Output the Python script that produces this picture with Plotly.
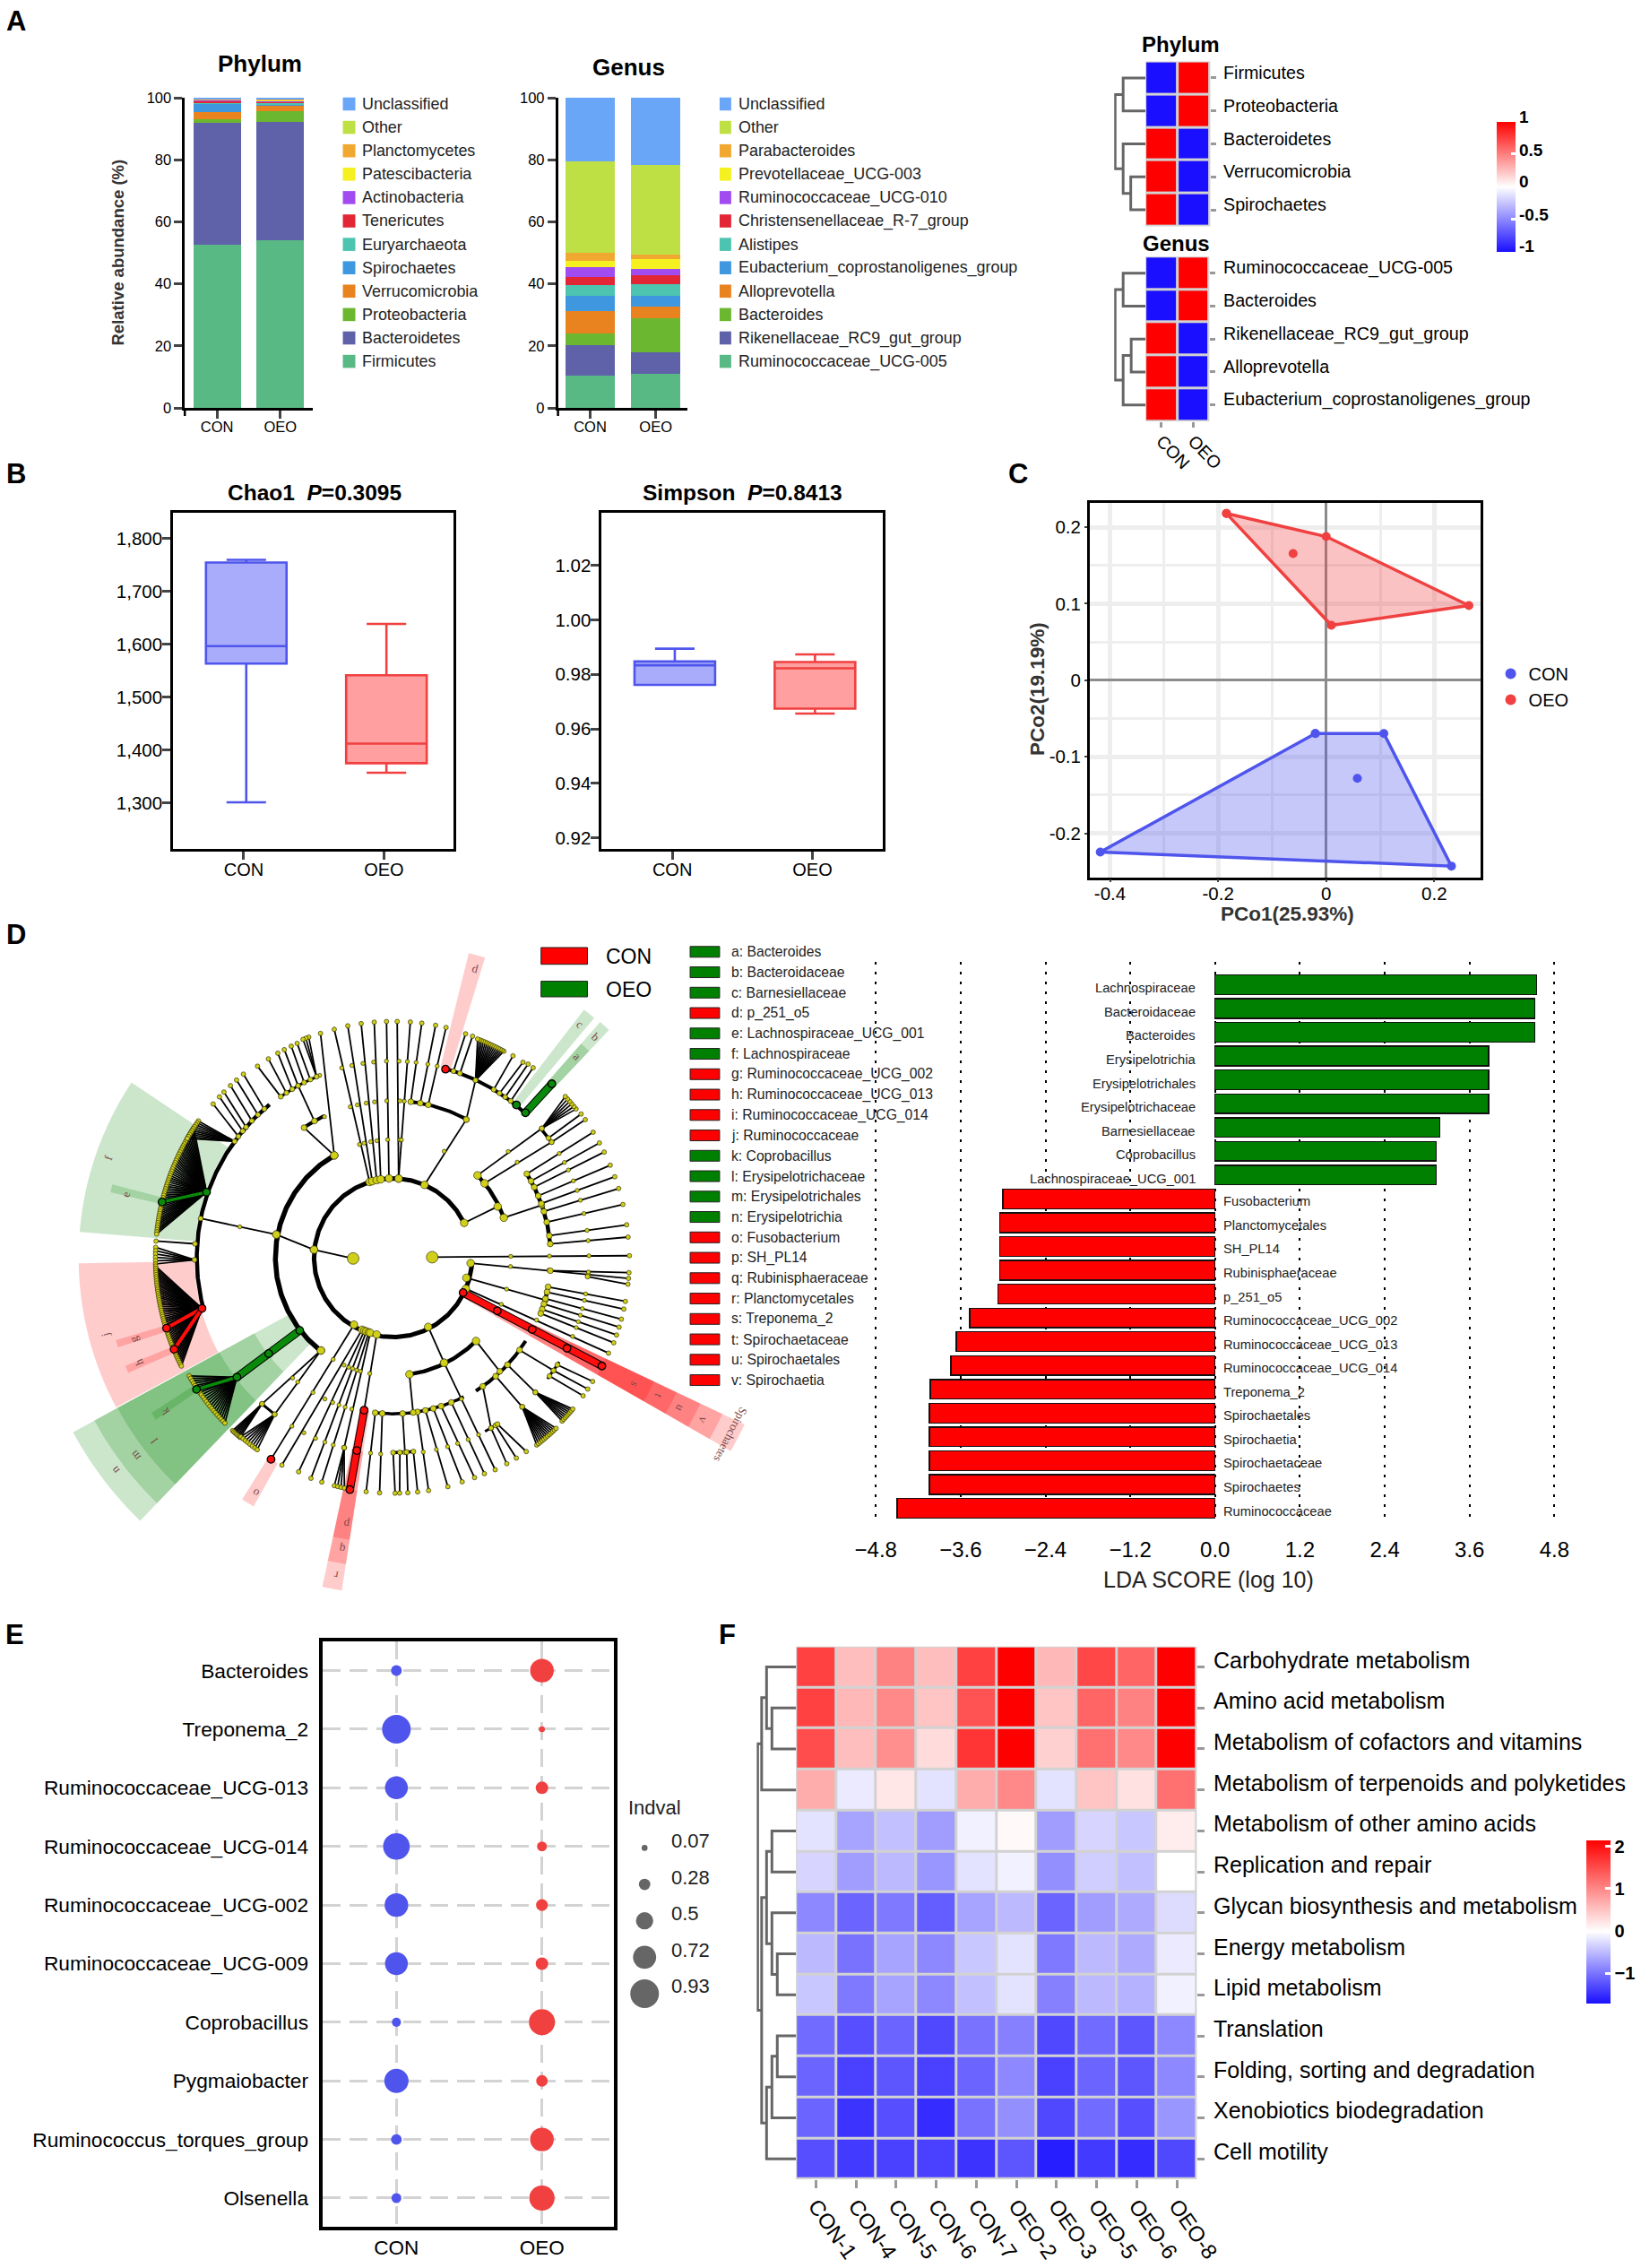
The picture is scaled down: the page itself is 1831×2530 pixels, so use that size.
import math
import numpy as np
import plotly.graph_objects as go

W, H = 1831, 2530
FONT = "Liberation Sans"

# ---------------- Panel A data ----------------
phylum_names = ["Firmicutes", "Bacteroidetes", "Proteobacteria", "Verrucomicrobia", "Spirochaetes", "Euryarchaeota",
                "Tenericutes", "Actinobacteria", "Patescibacteria", "Planctomycetes", "Other", "Unclassified"]
phylum_con = [52.5, 39.4, 1.1, 2.3, 2.8, 0.2, 0.7, 0.2, 0.2, 0.2, 0.1, 0.3]
phylum_oeo = [54.0, 38.3, 3.4, 1.7, 0.5, 0.4, 0.3, 0.3, 0.5, 0.2, 0.1, 0.3]
genus_names = ["Ruminococcaceae_UCG-005", "Rikenellaceae_RC9_gut_group", "Bacteroides", "Alloprevotella",
               "Eubacterium_coprostanoligenes_group", "Alistipes", "Christensenellaceae_R-7_group",
               "Ruminococcaceae_UCG-010", "Prevotellaceae_UCG-003", "Parabacteroides", "Other", "Unclassified"]
genus_con = [10.5, 9.7, 3.9, 7.0, 4.9, 3.5, 2.8, 3.0, 2.0, 2.6, 29.6, 20.5]
genus_oeo = [11.1, 6.8, 10.9, 3.8, 3.5, 3.9, 2.8, 2.0, 3.1, 1.5, 29.0, 21.6]
stack_colors = ["#58b985", "#5f62a9", "#6bb72f", "#e98320", "#3f97e0", "#4cc4b0",
                "#e32636", "#a04cf0", "#f5f020", "#f0a830", "#bfe045", "#6aa6f8"]
groups = ["CON", "OEO"]

heat_phylum_rows = ["Firmicutes", "Proteobacteria", "Bacteroidetes", "Verrucomicrobia", "Spirochaetes"]
heat_phylum_z = [[-1, 1], [-1, 1], [1, -1], [1, -1], [1, -1]]
heat_genus_rows = ["Ruminococcaceae_UCG-005", "Bacteroides", "Rikenellaceae_RC9_gut_group", "Alloprevotella",
                   "Eubacterium_coprostanoligenes_group"]
heat_genus_z = [[-1, 1], [-1, 1], [1, -1], [1, -1], [1, -1]]
dendro_phylum = [(0, 1, 25), (3, 4, 16.5), (2, 6, 25), (5, 7, 34)]
dendro_genus = [(0, 1, 25), (2, 3, 16), (6, 4, 25), (5, 7, 34)]

# ---------------- Panel B data ----------------
chao_q1 = [1563, 1375]
chao_med = [1596, 1412]
chao_q3 = [1754, 1541]
chao_low = [1301, 1357]
chao_high = [1759, 1638]
simp_q1 = [0.9761, 0.9674]
simp_med = [0.9833, 0.9822]
simp_q3 = [0.9847, 0.9845]
simp_low = [0.9761, 0.9656]
simp_high = [0.9894, 0.9873]

# ---------------- Panel C data ----------------
con_hull_x = [-0.0201, 0.1067, 0.2317, -0.418]
con_hull_y = [-0.0695, -0.0695, -0.2427, -0.2244]
con_inner_x = [0.0577]
con_inner_y = [-0.128]
oeo_hull_x = [-0.1845, 0.0, 0.2641, 0.0096]
oeo_hull_y = [0.2178, 0.1877, 0.0976, 0.0718]
oeo_inner_x = [-0.0612]
oeo_inner_y = [0.1655]

# ---------------- Panel D data ----------------
lda_green_names = ["Lachnospiraceae", "Bacteroidaceae", "Bacteroides", "Erysipelotrichia", "Erysipelotrichales",
                   "Erysipelotrichaceae", "Barnesiellaceae", "Coprobacillus", "Lachnospiraceae_UCG_001"]
lda_green_vals = [4.55, 4.52, 4.52, 3.87, 3.87, 3.87, 3.18, 3.13, 3.13]
lda_red_names = ["Fusobacterium", "Planctomycetales", "SH_PL14", "Rubinisphaeraceae", "p_251_o5",
                 "Ruminococcaceae_UCG_002", "Ruminococcaceae_UCG_013", "Ruminococcaceae_UCG_014", "Treponema_2",
                 "Spirochaetales", "Spirochaetia", "Spirochaetaceae", "Spirochaetes", "Ruminococcaceae"]
lda_red_vals = [-3.0, -3.05, -3.05, -3.05, -3.07, -3.47, -3.66, -3.74, -4.03, -4.04, -4.04, -4.04, -4.04, -4.50]
lda_ticks = [-4.8, -3.6, -2.4, -1.2, 0.0, 1.2, 2.4, 3.6, 4.8]
key_labels = ["a: Bacteroides", "b: Bacteroidaceae", "c: Barnesiellaceae", "d: p_251_o5", "e: Lachnospiraceae_UCG_001",
              "f: Lachnospiraceae", "g: Ruminococcaceae_UCG_002", "h: Ruminococcaceae_UCG_013",
              "i: Ruminococcaceae_UCG_014", "j: Ruminococcaceae", "k: Coprobacillus", "l: Erysipelotrichaceae",
              "m: Erysipelotrichales", "n: Erysipelotrichia", "o: Fusobacterium", "p: SH_PL14", "q: Rubinisphaeraceae",
              "r: Planctomycetales", "s: Treponema_2", "t: Spirochaetaceae", "u: Spirochaetales", "v: Spirochaetia"]
key_groups = "GGGRGGRRRRGGGGRRRRRRRR"

# cladogram tables: angles in degrees, radii in tree units
clado_rings = [(26, 357, 178, 5), (120, 232, 265, 5.5), (129, 195, 442, 4.5), (20, 44, 265, 4.5), (5, 32, 355, 4.5),
               (47.5, 74.5, 440, 4), (62, 83.5, 352, 4), (-82, -45, 264, 4.5), (263.4, 297, 350, 3.5),
               (-58, -32, 352, 4), (-20.6, -10.6, 355, 4.5), (112, 125.5, 441, 3), (116, 124.5, 354, 4),
               (228, 233, 441, 3), (270, 276, 437, 3.5), (-62, -57.6, 441, 3), (-38, -32, 441, 3), (36, 41, 441, 3.5)]
clado_spokes = [(181, 90, 174.2, 179), (0.8, 88, 0.5, 532), (174.2, 179, 168.8, 268), (168.8, 268, 168.5, 442),
                (26, 178, 26, 262), (66.6, 178, 62, 351), (-63, 174, -64, 262), (-4, 175, -5, 532),
                (-15.3, 171, -15.5, 356), (-23, 178, -23.8, 530),
                (107.3, 178, 104.5, 529), (105.3, 178, 101.1, 530), (102, 178, 97.8, 530), (99, 178, 94.6, 530),
                (93, 178, 91.6, 530), (86, 178, 89, 530), (86, 178, 85.8, 530),
                (120, 265, 108, 529), (120, 265, 124.5, 354), (120, 354, 119, 441),
                (125, 441, 125.4, 527), (123, 441, 122.2, 527), (121, 441, 119.5, 527), (119, 441, 117.7, 527),
                (117, 441, 115.8, 527), (115, 441, 114.2, 527),
                (142, 442, 139.6, 532), (140, 442, 137.3, 532), (138.5, 442, 135.7, 532), (136, 442, 133.5, 532),
                (133.5, 442, 131.5, 532), (131, 442, 129.3, 532),
                (176, 447, 176, 535), (232, 264, 232.8, 441), (232, 264, 228, 441),
                (239.6, 174, 238.7, 529), (246.6, 176, 241.7, 528), (248.5, 176, 246.1, 525), (250, 176, 249.5, 528),
                (251.9, 176, 252.3, 528), (253, 176, 255.5, 440), (257.9, 176, 259.2, 348),
                (263.4, 350, 263.4, 528), (266, 350, 266.7, 528), (273.5, 350, 273.5, 437),
                (270, 437, 270.5, 528), (272, 437, 271.6, 528), (274, 437, 273.6, 528), (276, 437, 276, 528),
                (279, 350, 278.7, 528), (282, 350, 283.5, 528), (285, 350, 287.2, 526), (288, 350, 290.4, 526),
                (292, 350, 293, 526), (-64, 262, -64.2, 528), (-82, 264, -82.6, 350), (-45, 264, -46.7, 350),
                (-60, 441, -61, 528), (-58.5, 441, -58.3, 528), (-57.8, 441, -55.4, 528), (-55, 352, -60, 441),
                (-49, 352, -49, 443), (-43, 352, -43.3, 440), (-36, 352, -35, 441),
                (-37, 441, -35.9, 528), (-35, 441, -33.9, 528), (-33, 441, -31.7, 528),
                (44.2, 265, 40.9, 443), (39, 265, 36, 441), (36, 441, 35.6, 532), (37.5, 441, 37.3, 532),
                (19.8, 265, 19.4, 355),
                (32, 355, 32, 531), (29, 355, 29, 531), (26.5, 355, 26.5, 531), (23, 355, 23, 531), (20, 355, 20, 531),
                (17, 355, 17, 531), (13, 355, 13, 531), (8, 355, 8, 531), (5, 355, 5, 531),
                (-10.6, 355, -10.6, 532), (-12.5, 355, -12.5, 532), (-15, 355, -15, 532), (-17, 355, -17, 532),
                (-19, 355, -19, 532), (-20.6, 355, -21, 532),
                (83.5, 352, 83, 530), (80, 352, 79.6, 530), (77, 352, 77, 530), (62, 351, 65, 439),
                (72, 440, 72, 528), (70, 440, 70.2, 528), (59, 440, 59.2, 527), (57, 440, 56.3, 527),
                (55, 440, 55, 530), (53, 440, 53.5, 530), (-5.5, 440, -6.4, 532), (-4.7, 355, -3.6, 532)]
clado_fans = [(160.7, 445, 147, 174.3, 535, 50), (180.6, 447, 177.5, 181.5, 535, 6), (194.8, 445, 182, 207, 535, 50),
              (217.3, 442, 210, 224.4, 530, 22), (228, 441, 227, 229.5, 530, 7), (232.8, 441, 229.5, 234.6, 528, 8),
              (143.8, 442, 145, 150, 535, 10), (65, 439, 61.7, 68.8, 526, 15), (40.9, 443, 39, 43, 530, 6),
              (-49, 443, -52.4, -46.2, 530, 12), (-43.3, 440, -43.9, -40, 528, 8), (113, 441, 111, 112.5, 530, 3),
              (255.5, 440, 255.5, 258, 528, 4)]
clado_wedges = [(146.3, 175.3, 447, 708, "G"), (165.4, 167, 535, 653, "G"), (181, 208.3, 447, 708, "R"),
                (196.5, 198, 534, 651, "R"), (201.9, 203.4, 534, 650, "R"), (212.6, 214.2, 532, 646, "G"),
                (208.5, 226, 268, 820, "G"), (208.5, 226, 355, 765, "G"), (208.5, 226, 445, 706, "G"),
                (72.9, 76, 440, 704, "R"), (49.9, 52.3, 441, 703, "G"), (46.4, 48.6, 441, 640, "G"),
                (46.4, 48.6, 441, 705, "G"), (-29.7, -25.3, 176, 875, "R"), (-29.7, -25.3, 264, 820, "R"),
                (-29.7, -25.3, 353, 765, "R"), (-29.7, -25.3, 442, 706, "R"), (-29.7, -25.3, 529, 650, "R"),
                (257.8, 261.2, 348, 755, "R"), (257.8, 261.2, 440, 695, "R"), (257.8, 261.2, 529, 640, "R"),
                (237.9, 240.6, 529, 640, "R")]
clado_letters = [("f", 160.7, 680), ("e", 166.7, 619), ("j", 195, 671), ("g", 197.4, 613), ("h", 202.3, 618),
                 ("k", 213.9, 618), ("l", 217.3, 676), ("m", 217.4, 730), ("n", 217.3, 787), ("d", 74, 675),
                 ("c", 51.2, 671), ("a", 47.4, 613), ("b", 47.4, 672), ("o", 239.5, 611), ("p", 260, 607),
                 ("q", 260, 663), ("r", 259.8, 724), ("s", -27.5, 613), ("t", -27.5, 673), ("u", -27.5, 729),
                 ("v", -27.5, 788), ("Spirochaetes", -27.5, 858)]
clado_hilines = [(-26.4, 176, -27.3, 529, "R", 7), (259.2, 348, 259.4, 529, "R", 7), (47.5, 441, 47.5, 529, "G", 7),
                 (217.8, 266, 217.3, 442, "G", 7), (217.3, 442, 213.7, 532, "G", 3.5), (160.7, 445, 166.5, 535, "G", 3.5),
                 (194.8, 445, 197.2, 534, "R", 4), (194.8, 445, 202.6, 534, "R", 4)]
clado_hinodes = [(-26.4, 176, "R"), (-26.9, 263, "R"), (-27.2, 352, "R"), (-27.4, 441, "R"), (-27.3, 529, "R"),
                 (74.4, 439, "R"), (238.7, 529, "R"), (259.2, 348, "R"), (259.3, 440, "R"), (259.4, 529, "R"),
                 (194.8, 445, "R"), (197.2, 534, "R"), (202.6, 534, "R"), (47.5, 441, "G"), (47.5, 529, "G"),
                 (51, 441, "G"), (160.7, 445, "G"), (166.5, 535, "G"), (217.8, 266, "G"), (217.5, 353, "G"),
                 (217.3, 442, "G"), (213.7, 532, "G")]

# ---------------- Panel E data ----------------
indval_taxa = ["Bacteroides", "Treponema_2", "Ruminococcaceae_UCG-013", "Ruminococcaceae_UCG-014",
               "Ruminococcaceae_UCG-002", "Ruminococcaceae_UCG-009", "Coprobacillus", "Pygmaiobacter",
               "Ruminococcus_torques_group", "Olsenella"]
indval_con = [0.25, 0.93, 0.71, 0.85, 0.74, 0.71, 0.19, 0.76, 0.25, 0.22]
indval_oeo = [0.74, 0.07, 0.32, 0.22, 0.29, 0.32, 0.83, 0.28, 0.74, 0.80]
indval_key = [0.07, 0.28, 0.5, 0.72, 0.93]

# ---------------- Panel F data ----------------
path_rows = ["Carbohydrate metabolism", "Amino acid metabolism", "Metabolism of cofactors and vitamins",
             "Metabolism of terpenoids and polyketides", "Metabolism of other amino acids", "Replication and repair",
             "Glycan biosynthesis and metabolism", "Energy metabolism", "Lipid metabolism", "Translation",
             "Folding, sorting and degradation", "Xenobiotics biodegradation", "Cell motility"]
path_cols = ["CON-1", "CON-4", "CON-5", "CON-6", "CON-7", "OEO-2", "OEO-3", "OEO-5", "OEO-6", "OEO-8"]
path_z = [[1.6, .55, 1.05, .55, 1.6, 2.15, .6, 1.55, 1.3, 2.15],
          [1.6, .6, 1.0, .5, 1.45, 2.15, .5, 1.3, 1.05, 2.15],
          [1.5, .55, .95, .3, 1.7, 2.15, .4, 1.2, 1.0, 2.15],
          [.7, -.15, .2, -.2, .7, 1.0, -.2, .5, .25, 1.2],
          [-.2, -.65, -.45, -.7, -.1, .05, -.7, -.3, -.4, .15],
          [-.3, -.7, -.5, -.75, -.2, -.1, -.8, -.35, -.45, 0.0],
          [-.85, -1.1, -.95, -1.15, -.65, -.5, -1.1, -.7, -.6, -.25],
          [-.5, -1.0, -.65, -.85, -.4, -.2, -.95, -.5, -.6, -.15],
          [-.4, -.95, -.65, -.85, -.45, -.2, -.9, -.5, -.55, -.1],
          [-1.05, -1.25, -1.1, -1.3, -1.0, -.9, -1.3, -1.05, -1.2, -.85],
          [-1.1, -1.35, -1.2, -1.35, -1.1, -.85, -1.35, -1.1, -1.2, -.85],
          [-1.1, -1.45, -1.25, -1.5, -1.0, -.8, -1.3, -1.05, -1.25, -.75],
          [-1.25, -1.4, -1.35, -1.35, -1.45, -1.2, -1.6, -1.4, -1.5, -1.3]]
dendro_path = [(1, 2, 27), (0, 13, 33), (14, 3, 38.5), (4, 5, 27), (7, 8, 21), (6, 17, 27), (16, 18, 33),
               (9, 10, 21), (20, 11, 27), (21, 12, 33), (19, 22, 38.5), (15, 23, 43)]

# ---------------- Helpers ----------------
fig = go.Figure()
layout = {}
annos = []
shapes = []
axis_i = [0]
BLUE, RED = "#4f55ec", "#f04040"
HID = dict(visible=False, fixedrange=True)


def new_axes(x0, x1, y0, y1, xkw, ykw):
    axis_i[0] += 1
    i = axis_i[0]
    sx = "" if i == 1 else str(i)
    layout["xaxis" + sx] = dict(domain=[x0 / W, x1 / W], anchor="y" + sx, automargin=False, **xkw)
    layout["yaxis" + sx] = dict(domain=[1 - y1 / H, 1 - y0 / H], anchor="x" + sx, automargin=False, **ykw)
    return "x" + sx, "y" + sx


def text(x, y, s, size, color="#000000", anchor="left", angle=0):
    annos.append(dict(xref="paper", yref="paper", x=x / W, y=1 - y / H, text=s, showarrow=False, xanchor=anchor,
                      yanchor="middle", textangle=angle, borderpad=0, font=dict(size=size, color=color, family=FONT)))


def rect(x0, y0, x1, y1, fill, line=None, lw=0, layer="below"):
    shapes.append(dict(type="rect", xref="paper", yref="paper", x0=x0 / W, x1=x1 / W, y0=1 - y1 / H, y1=1 - y0 / H,
                       fillcolor=fill, line=dict(color=line or fill, width=lw), layer=layer))


def seg(x0, y0, x1, y1, color, lw):
    shapes.append(dict(type="line", xref="paper", yref="paper", x0=x0 / W, x1=x1 / W, y0=1 - y0 / H, y1=1 - y1 / H,
                       line=dict(color=color, width=lw)))


def dendrogram(merges, n_leaves, xa, ya, lw=3):
    pos = {i: (float(i), 0.0) for i in range(n_leaves)}
    xs, ys = [], []
    for k, (a, b, h) in enumerate(merges):
        ya0, ha = pos[a]
        yb0, hb = pos[b]
        xs += [ha, h, h, hb, None]
        ys += [ya0, ya0, yb0, yb0, None]
        pos[n_leaves + k] = ((ya0 + yb0) / 2, h)
    fig.add_trace(go.Scatter(x=xs, y=ys, mode="lines", line=dict(color="#666666", width=lw), xaxis=xa, yaxis=ya,
                             showlegend=False, hoverinfo="skip"))


def stacked(x0, x1, tick0, tick1, names, con, oeo):
    step = tick1 - tick0
    xkw = dict(range=[(x0 - tick0) / step, (x1 - tick0) / step], tickvals=[0, 1], ticktext=groups, ticks="outside",
               ticklen=9, tickwidth=2.5, showline=True, linewidth=2.5, linecolor="black", showgrid=False,
               zeroline=False, tickfont=dict(size=16.5), ticklabelstandoff=-5)
    ykw = dict(range=[0, 100], tickvals=[0, 20, 40, 60, 80, 100], ticks="outside", ticklen=9, tickwidth=2.5,
               showline=True, linewidth=2.5, linecolor="black", showgrid=False, zeroline=False,
               tickfont=dict(size=16.5))
    xa, ya = new_axes(x0, x1, 109, 455, xkw, ykw)
    seg(x0, 455, x0, 464, "black", 2.5)
    for i, nm in enumerate(names):
        fig.add_trace(go.Bar(x=[0, 1], y=[con[i], oeo[i]], name=nm, marker=dict(color=stack_colors[i], line_width=0),
                             width=0.75, xaxis=xa, yaxis=ya, showlegend=False))


def small_heat(x0, x1, y0, y1, rows, z, xticks, colorbar=None):
    rect(x0, y0, x1, y1, "#d2d2d2")
    xkw = dict(type="category", categoryorder="array", categoryarray=groups, showgrid=False, zeroline=False,
               ticks="outside" if xticks else "", ticklen=6, tickwidth=3, tickcolor="#999999", tickangle=46,
               showticklabels=xticks, tickfont=dict(size=19.5), ticklabelstandoff=-4 if xticks else 0)
    ykw = dict(type="category", categoryorder="array", categoryarray=rows, range=[4.5, -0.5], side="right", showgrid=False,
               zeroline=False, ticks="outside", ticklen=6, tickwidth=3, tickcolor="#999999", showticklabels=False)
    xa, ya = new_axes(x0, x1, y0, y1, xkw, ykw)
    tr = go.Heatmap(x=groups, y=rows, z=z, zmin=-1, zmax=1, xgap=3, ygap=3, xaxis=xa, yaxis=ya,
                    colorscale=[[0, "#1a10ff"], [.5, "#ffffff"], [1, "#ff0000"]], showscale=colorbar is not None)
    if colorbar:
        tr.colorbar = colorbar
    fig.add_trace(tr)
    for r in rows:
        annos.append(dict(xref="paper", yref=ya, x=1369.5 / W, y=r, yshift=6, text=r, showarrow=False, xanchor="left",
                          yanchor="middle", borderpad=0, font=dict(size=19.7, family=FONT, color="#000")))
    return xa, ya


# ---------------- Panel letters ----------------
for s, x, y in [("A", 18, 24), ("B", 18, 528), ("C", 1140, 528), ("D", 18, 1042), ("E", 17, 1824), ("F", 815, 1824)]:
    text(x, y, "<b>%s</b>" % s, 31, anchor="center")

# ---------------- Panel A ----------------
stacked(207, 350, 243, 314, phylum_names, phylum_con, phylum_oeo)
stacked(625, 770, 661, 734.5, genus_names, genus_con, genus_oeo)
text(291, 71, "<b>Phylum</b>", 26, anchor="center")
text(704, 75, "<b>Genus</b>", 26, anchor="center")
text(132, 281, "<b>Relative abundance (%)</b>", 18.5, "#333333", "center", -90)
for i in range(12):
    yy = 116 + 26.1 * (11 - i)
    rect(384, yy - 7.3, 398, yy + 7.3, stack_colors[i])
    text(405, yy, phylum_names[i], 17.9, "#222222")
    rect(806, yy - 7.3, 819, yy + 7.3, stack_colors[i])
    text(826, yy, genus_names[i], 17.9, "#222222")

cb_a = dict(x=1676 / W, xanchor="left", xpad=0, y=1 - 280.6 / H, yanchor="bottom", ypad=0, len=144.6, lenmode="pixels",
            thickness=21, outlinewidth=0, tickmode="array", tickvals=[-0.5, 0.5], ticks="inside", ticklen=5, tickwidth=3,
            tickcolor="white", showticklabels=False)
small_heat(1283, 1355.6, 68.6, 252.5, heat_phylum_rows, heat_phylum_z, False, cb_a)
small_heat(1283, 1354.5, 286.3, 470, heat_genus_rows, heat_genus_z, True)
text(1323, 49, "<b>Phylum</b>", 24, anchor="center")
text(1318, 271, "<b>Genus</b>", 24, anchor="center")
for lab, yy in [("1", 130.8), ("0.5", 167.3), ("0", 202.8), ("-0.5", 239.3), ("-1", 274.5)]:
    text(1701, yy, "<b>%s</b>" % lab, 19)
ddx = dict(range=[35, 0], **HID)
xa, ya = new_axes(1248, 1283, 68.6, 252.5, ddx, dict(range=[4.5, -0.5], **HID))
dendrogram(dendro_phylum, 5, xa, ya)
xa, ya = new_axes(1248, 1283, 286.3, 470, ddx, dict(range=[4.5, -0.5], **HID))
dendrogram(dendro_genus, 5, xa, ya)


# ---------------- Panel B ----------------
def box_panel(x0, x1, y0, y1, yrange, tickvals, fmt, t0, t1, q1, med, q3, low, high):
    step = t1 - t0
    xkw = dict(range=[(x0 - t0) / step, (x1 - t0) / step], tickvals=[0, 1], ticktext=groups, ticks="outside", ticklen=9,
               tickwidth=2.5, showline=True, mirror=True, linewidth=3, linecolor="black", showgrid=False, zeroline=False,
               tickfont=dict(size=20), ticklabelstandoff=-6)
    ykw = dict(range=yrange, tickvals=tickvals, tickformat=fmt, ticks="outside", ticklen=9, tickwidth=2.5, showline=True,
               mirror=True, linewidth=3, linecolor="black", showgrid=False, zeroline=False, tickfont=dict(size=20.5),
               ticklabelstandoff=-4)
    xa, ya = new_axes(x0, x1, y0, y1, xkw, ykw)
    for i, (c, f) in enumerate([(BLUE, "#a8acfb"), (RED, "#ff9f9f")]):
        fig.add_trace(go.Box(x=[i + 0.018], q1=[q1[i]], median=[med[i]], q3=[q3[i]], lowerfence=[low[i]],
                             upperfence=[high[i]], width=0.575, whiskerwidth=0.49, fillcolor=f,
                             line=dict(color=c, width=2.6), boxpoints=False, xaxis=xa, yaxis=ya, showlegend=False,
                             name=groups[i]))


box_panel(194, 508, 572, 947, [1213, 1848], [1300, 1400, 1500, 1600, 1700, 1800], ",d", 273, 430,
          chao_q1, chao_med, chao_q3, chao_low, chao_high)
box_panel(674, 989, 572, 947, [0.916, 1.0392], [0.92, 0.94, 0.96, 0.98, 1.0, 1.02], ".2f", 753, 910,
          simp_q1, simp_med, simp_q3, simp_low, simp_high)
text(352, 550, "<b>Chao1  <i>P</i>=0.3095</b>", 24.5, anchor="center")
text(832, 550, "<b>Simpson  <i>P</i>=0.8413</b>", 24.5, anchor="center")

# ---------------- Panel C ----------------
GRID = "#eeeeee"
xkw = dict(range=[-0.4376, 0.2851], tickvals=[-0.4, -0.2, 0, 0.2], ticktext=["-0.4", "-0.2", "0", "0.2"], ticks="outside",
           ticklen=3, tickwidth=2, showline=True, mirror=True, linewidth=2.5, linecolor="black", showgrid=True,
           gridcolor=GRID, gridwidth=5, zeroline=True, zerolinecolor="#8c8c8c", zerolinewidth=3,
           minor=dict(tickvals=[-0.3, -0.1, 0.1], showgrid=True, gridcolor=GRID, gridwidth=3, ticks=""),
           tickfont=dict(size=20.5), ticklabelstandoff=-5)
ykw = dict(range=[-0.2574, 0.232], tickvals=[-0.2, -0.1, 0, 0.1, 0.2], ticktext=["-0.2", "-0.1", "0", "0.1", "0.2"],
           ticks="outside", ticklen=3, tickwidth=2, showline=True, mirror=True, linewidth=2.5, linecolor="black",
           showgrid=True, gridcolor=GRID, gridwidth=5, zeroline=True, zerolinecolor="#8c8c8c", zerolinewidth=3,
           minor=dict(tickvals=[-0.15, -0.05, 0.05, 0.15], showgrid=True, gridcolor=GRID, gridwidth=3, ticks=""),
           tickfont=dict(size=20.5))
xa, ya = new_axes(1220.5, 1658, 560.7, 978.7, xkw, ykw)
for hx, hy, ix, iy, col, fill, nm in [
    (con_hull_x, con_hull_y, con_inner_x, con_inner_y, BLUE, "rgba(79,85,236,0.32)", "CON"),
    (oeo_hull_x, oeo_hull_y, oeo_inner_x, oeo_inner_y, RED, "rgba(240,64,64,0.32)", "OEO")]:
    fig.add_trace(go.Scatter(x=hx + hx[:1], y=hy + hy[:1], mode="lines+markers", fill="toself", fillcolor=fill,
                             line=dict(color=col, width=3.5), marker=dict(color=col, size=10), xaxis=xa, yaxis=ya,
                             showlegend=False, name=nm))
    fig.add_trace(go.Scatter(x=ix, y=iy, mode="markers", marker=dict(color=col, size=10), xaxis=xa, yaxis=ya, name=nm,
                             showlegend=True))
text(1442, 1019, "<b>PCo1(25.93%)</b>", 22.5, "#333333", "center")
text(1161.5, 769, "<b>PCo2(19.19%)</b>", 22.5, "#333333", "center", -90)

# ---------------- Panel D: cladogram ----------------
clado_x, clado_y = new_axes(0, 900, 1020, 1800, dict(range=[-885, 924], **HID), dict(range=[-798, 770], **HID))


def pc(a, r):
    t = np.radians(a)
    return r * np.cos(t), r * np.sin(t)


def add_clado_path(xs, ys, **kw):
    fig.add_trace(go.Scatter(x=xs, y=ys, xaxis=clado_x, yaxis=clado_y, showlegend=False, hoverinfo="skip", **kw))


def node_size(r):
    if r < 120:
        return 13
    if r < 300:
        return 8.5
    if r < 400:
        return 6.5
    if r < 480:
        return 5.5
    return 5


WEDGE = {"G": "rgba(0,128,0,0.2)", "R": "rgba(255,0,0,0.2)"}
LINEC = {"G": "#0a8a0a", "R": "#ff0d0d"}
for a0, a1, r0, r1, g in clado_wedges:
    th = np.linspace(a0, a1, 30)
    xo, yo = pc(th, r1)
    xi, yi = pc(th[::-1], r0)
    add_clado_path(list(xo) + list(xi) + [xo[0]], list(yo) + list(yi) + [yo[0]], mode="none", fill="toself",
                   fillcolor=WEDGE[g])
for a0, a1, r, lw in clado_rings:
    th = np.linspace(a0, a1, max(3, int(abs(a1 - a0) * 2)))
    xo, yo = pc(th, r)
    add_clado_path(list(xo), list(yo), mode="lines", line=dict(color="black", width=lw))
sx, sy = [], []
node_a, node_r, node_s = [], [], []
for a0, r0, a1, r1 in clado_spokes:
    x0, y0 = pc(a0, r0)
    x1, y1 = pc(a1, r1)
    sx += [x0, x1, None]
    sy += [y0, y1, None]
    node_a += [a0, a1]
    node_r += [r0, r1]
    node_s += [node_size(r0), node_size(r1)]
    for lev in (265, 352, 441):
        if r0 < lev - 25 and r1 > lev + 25:
            f = (lev - r0) / (r1 - r0)
            node_a.append(a0 + (a1 - a0) * f)
            node_r.append(lev)
            node_s.append(4.5)
add_clado_path(sx, sy, mode="lines", line=dict(color="black", width=1.8))
fx, fy = [], []
for a, r, a0, a1, rl, n in clado_fans:
    xa0, ya0 = pc(a, r)
    for t in np.linspace(a0, a1, n):
        lx, ly = pc(float(t), rl)
        fx += [xa0, lx, None]
        fy += [ya0, ly, None]
        node_a.append(float(t))
        node_r.append(rl)
        node_s.append(5)
    node_a.append(a)
    node_r.append(r)
    node_s.append(node_size(r))
add_clado_path(fx, fy, mode="lines", line=dict(color="black", width=1.7))
for a0, r0, a1, r1, g, lw in clado_hilines:
    x0, y0 = pc(a0, r0)
    x1, y1 = pc(a1, r1)
    add_clado_path([x0, x1], [y0, y1], mode="lines", line=dict(color="black", width=lw + 2))
    add_clado_path([x0, x1], [y0, y1], mode="lines", line=dict(color=LINEC[g], width=lw))

nx, ny = pc(np.array(node_a), np.array(node_r))
add_clado_path(list(nx), list(ny), mode="markers",
               marker=dict(color="#d0cf1a", size=node_s, opacity=1, line=dict(color="#1a1a00", width=0.6)))
for g in "RG":
    pts = [p for p in clado_hinodes if p[2] == g]
    hx, hy = pc(np.array([p[0] for p in pts]), np.array([p[1] for p in pts]))
    add_clado_path(list(hx), list(hy), mode="markers",
                   marker=dict(color=LINEC[g], size=8.5, line=dict(color="black", width=1.3)))
for s, a, r in clado_letters:
    lx, ly = pc(a, r)
    annos.append(dict(xref=clado_x, yref=clado_y, x=float(lx), y=float(ly), text=s, showarrow=False, textangle=90 - a,
                      font=dict(size=13, family="Liberation Serif", color="#7a4a4a")))

rect(606, 1057, 658, 1075.7, "#ff0000", "#222222", 1)
rect(606, 1094.6, 658, 1112, "#008000", "#222222", 1)
text(678, 1067, "CON", 23)
text(678, 1104, "OEO", 23)
for i, lab in enumerate(key_labels):
    yy = 1061.8 + 22.75 * i
    rect(773, yy - 6, 806, yy + 6, "#ff0000" if key_groups[i] == "R" else "#008000", "#222222", 1)
    text(818, yy, lab, 15.7, "#222222")

# ---------------- Panel D: LDA bars ----------------
lda_order = lda_green_names + lda_red_names
xkw = dict(range=[-4.8 - 0.02, 4.8 + 0.02], tickvals=lda_ticks, tickformat=".1f", showgrid=True, griddash="3px,8px",
           gridcolor="black", gridwidth=1.5, zeroline=False, ticks="outside", ticklen=8, tickcolor="rgba(0,0,0,0)",
           tickfont=dict(size=24))
ykw = dict(type="category", categoryorder="array", categoryarray=lda_order, range=[22.62, -0.975], showgrid=False,
           zeroline=False, showticklabels=False, ticks="")
xa, ya = new_axes(981 - 1.6, 1741 + 1.6, 1072.5, 1699, xkw, ykw)
for names, vals, col in [(lda_green_names, lda_green_vals, "#008000"), (lda_red_names, lda_red_vals, "#ff0000")]:
    fig.add_trace(go.Bar(y=names, x=vals, orientation="h", width=0.82, marker=dict(color=col, line=dict(color="#111111", width=1.4)),
                         xaxis=xa, yaxis=ya, showlegend=False))
for nm in lda_green_names:
    annos.append(dict(xref=xa, yref=ya, x=-0.27, y=nm, yshift=-4, text=nm, showarrow=False, xanchor="right",
                      font=dict(size=14.7, family=FONT, color="#222222"), borderpad=0))
for nm in lda_red_names:
    annos.append(dict(xref=xa, yref=ya, x=0.11, y=nm, yshift=-3, text=nm, showarrow=False, xanchor="left",
                      font=dict(size=14.7, family=FONT, color="#222222"), borderpad=0))
text(1354, 1762, "LDA SCORE (log 10)", 25, "#222222", "center")


# ---------------- Panel E ----------------
def dot_size(v):
    return 6.6 + (v - 0.07) * 29.5


xkw = dict(range=[-0.505, 1.495], tickvals=[0, 1], ticktext=groups, showline=True, mirror=True, linewidth=3.5,
           linecolor="black", showgrid=True, griddash="20px,10px", gridcolor="#d3d3d3", gridwidth=3, zeroline=False,
           ticks="outside", ticklen=1, tickcolor="rgba(0,0,0,0)", tickfont=dict(size=22.5))
ykw = dict(type="category", categoryorder="array", categoryarray=indval_taxa, range=[9.485, -0.498], showline=True,
           mirror=True, linewidth=3.5, linecolor="black", showgrid=True, griddash="20px,10px", gridcolor="#d3d3d3",
           gridwidth=3, zeroline=False, ticks="outside", ticklen=8, tickcolor="rgba(0,0,0,0)",
           tickfont=dict(size=22.7))
xa, ya = new_axes(361.7, 687.7, 1831, 2483.7, xkw, ykw)
for i, (vals, col) in enumerate([(indval_con, BLUE), (indval_oeo, RED)]):
    fig.add_trace(go.Scatter(x=[i] * len(vals), y=indval_taxa, mode="markers",
                             marker=dict(color=col, size=[dot_size(v) for v in vals], opacity=1, line_width=0),
                             xaxis=xa, yaxis=ya, showlegend=False, name=groups[i]))
xa, ya = new_axes(702, 742, 2041.1, 2244.3, dict(range=[-1, 1], **HID), dict(range=[4.5, -0.5], **HID))
fig.add_trace(go.Scatter(x=[0] * len(indval_key), y=list(range(5)), mode="markers",
                         marker=dict(color="#666666", size=[dot_size(v) for v in indval_key], opacity=1, line_width=0),
                         xaxis=xa, yaxis=ya, showlegend=False))
for i, v in enumerate(indval_key):
    annos.append(dict(xref="paper", yref=ya, x=751 / W, y=i, yshift=8, text=str(v), showarrow=False, xanchor="left",
                      font=dict(size=22, family=FONT, color="#222222"), borderpad=0))
text(702.5, 2016.5, "Indval", 22, "#222222")

# ---------------- Panel F ----------------
rect(891.6, 1836.7, 1340.5, 2431, "#d2d2d2")
xkw = dict(type="category", categoryorder="array", categoryarray=path_cols, showgrid=False, zeroline=False, ticks="outside",
           ticklen=9, tickwidth=2.5, tickcolor="#999999", tickangle=55, tickfont=dict(size=24), ticklabelstandoff=-4)
ykw = dict(type="category", categoryorder="array", categoryarray=path_rows, range=[12.5, -0.5], side="right", showgrid=False,
           zeroline=False, ticks="outside", ticklen=8, tickwidth=2.5, tickcolor="#999999", showticklabels=False)
xa, ya = new_axes(891.6, 1340.5, 1836.7, 2431, xkw, ykw)
zmin, zmax = -1.7, 2.15
fig.add_trace(go.Heatmap(
    x=path_cols, y=path_rows, z=path_z, zmin=zmin, zmax=zmax, xgap=3, ygap=3, xaxis=xa, yaxis=ya,
    colorscale=[[0, "#1a10ff"], [-zmin / (zmax - zmin), "#ffffff"], [1, "#ff0000"]],
    colorbar=dict(x=1777 / W, xanchor="left", xpad=0, y=1 - 2234.5 / H, yanchor="bottom", ypad=0, len=181.5, lenmode="pixels",
                  thickness=27, outlinewidth=0, tickmode="array", tickvals=[-1, 0, 1, 2], ticks="inside", ticklen=6,
                  tickwidth=3, tickcolor="white", tickfont=dict(size=20, weight=700, family=FONT))))
for r in path_rows:
    annos.append(dict(xref="paper", yref=ya, x=1357.7 / W, y=r, yshift=8, text=r, showarrow=False, xanchor="left",
                      font=dict(size=25, family=FONT, color="#000"), borderpad=0))
xa, ya = new_axes(847.6, 891.6, 1836.7, 2431, dict(range=[44, 0], **HID), dict(range=[12.5, -0.5], **HID))
dendrogram(dendro_path, 13, xa, ya)

# ---------------- Layout ----------------
fig.update_layout(width=W, height=H, margin=dict(l=0, r=0, t=0, b=0, pad=0), autosize=False, paper_bgcolor="white",
                  plot_bgcolor="white", barmode="stack", font=dict(family=FONT, color="#000000"),
                  showlegend=True, annotations=annos, shapes=shapes,
                  legend=dict(x=1672 / W, xanchor="left", y=1 - 732 / H, yanchor="top", bgcolor="rgba(0,0,0,0)",
                              font=dict(size=20), itemsizing="constant", itemwidth=30, tracegroupgap=0,
                              traceorder="normal"),
                  **layout)
fig.write_html("out.html", post_script="document.body.style.margin='0';", config={"displayModeBar": False})
